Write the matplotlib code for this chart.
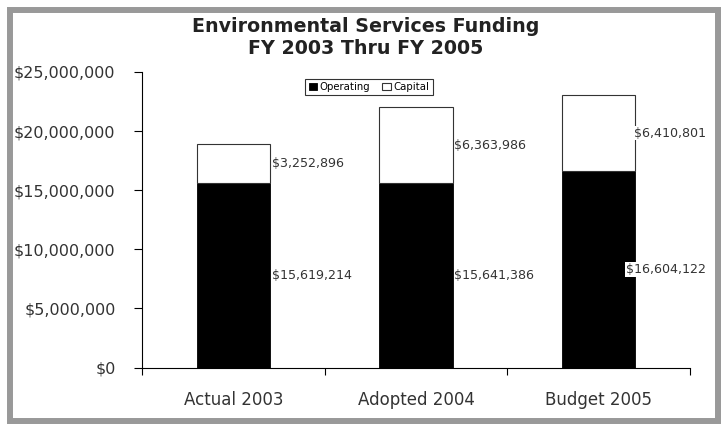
import matplotlib
matplotlib.use("Agg")
import matplotlib.pyplot as plt
from matplotlib.patches import Rectangle
from matplotlib.ticker import FuncFormatter
from matplotlib.transforms import blended_transform_factory

categories = ["Actual 2003", "Adopted 2004", "Budget 2005"]
operating = [15619214, 15641386, 16604122]
capital = [3252896, 6363986, 6410801]
series_names = ["Operating", "Capital"]
yticks = [0, 5000000, 10000000, 15000000, 20000000, 25000000]

W, H = 721, 424
fig = plt.figure(figsize=(W / 100, H / 100), dpi=100)
fig.patch.set_facecolor("white")

# gray frame
fig.patches.append(Rectangle((10 / W, 3.5 / H), 707.5 / W, 410.5 / H, transform=fig.transFigure,
                             facecolor="none", edgecolor="#999999", linewidth=4.3, zorder=0))

ax = fig.add_axes([142 / W, 1 - 367.5 / H, (690 - 142) / W, (367.5 - 72) / H])
x = list(range(len(categories)))
bw = 0.40
ax.bar(x, operating, width=bw, color="black", edgecolor="black", linewidth=0.6, label=series_names[0])
ax.bar(x, capital, width=bw, bottom=operating, color="white", edgecolor="#333333", linewidth=0.8,
       label=series_names[1])

ax.set_xlim(-0.5, len(categories) - 0.5)
ax.set_ylim(0, 25000000)
ax.set_yticks(yticks)
ax.yaxis.set_major_formatter(FuncFormatter(lambda v, p: "${:,.0f}".format(v)))
ax.set_xticks([i + 0.5 for i in range(-1, len(categories))], minor=True)
ax.set_xticks(x)
ax.set_xticklabels(categories, fontsize=12, color="#333333")
ax.tick_params(axis="x", which="major", length=0, pad=17)
ax.tick_params(axis="x", which="minor", length=5, direction="out", width=0.8)
ax.tick_params(axis="y", length=6, direction="out", width=0.8, labelsize=11.5, pad=13,
               labelcolor="#333333")
for s in ["top", "right"]:
    ax.spines[s].set_visible(False)
for s in ["left", "bottom"]:
    ax.spines[s].set_linewidth(0.8)

blend = blended_transform_factory(ax.transAxes, ax.transData)
last = len(categories) - 1
for i in x:
    labels = [(operating[i] / 2, operating[i]), (operating[i] + capital[i] / 2, capital[i])]
    for yc, val in labels:
        txt = "${:,.0f}".format(val)
        if i == last:
            ax.text(1.029, yc, txt, transform=blend, ha="right", va="center", fontsize=9.1,
                    color="#333333", zorder=5,
                    bbox=dict(boxstyle="square,pad=0.05", facecolor="white", edgecolor="none"))
        else:
            ax.text(i + bw / 2 + 0.01, yc, txt, ha="left", va="center", fontsize=9.1,
                    color="#333333")

fig.text(366 / W, 1 - 26 / H, "Environmental Services Funding", ha="center", va="center",
         fontsize=13.7, fontweight="bold", color="#222222")
fig.text(366 / W, 1 - 49 / H, "FY 2003 Thru FY 2005", ha="center", va="center",
         fontsize=13.7, fontweight="bold", color="#222222")

leg = ax.legend(loc="center", bbox_to_anchor=(369 / W, 1 - 87 / H), bbox_transform=fig.transFigure,
                ncol=2, fontsize=7.3, frameon=True, fancybox=False, handlelength=0.8,
                handleheight=0.8, handletextpad=0.3, columnspacing=1.2, borderpad=0.3,
                borderaxespad=0)
leg.get_frame().set_edgecolor("black")
leg.get_frame().set_linewidth(0.8)

fig.savefig("out.png", dpi=100)
